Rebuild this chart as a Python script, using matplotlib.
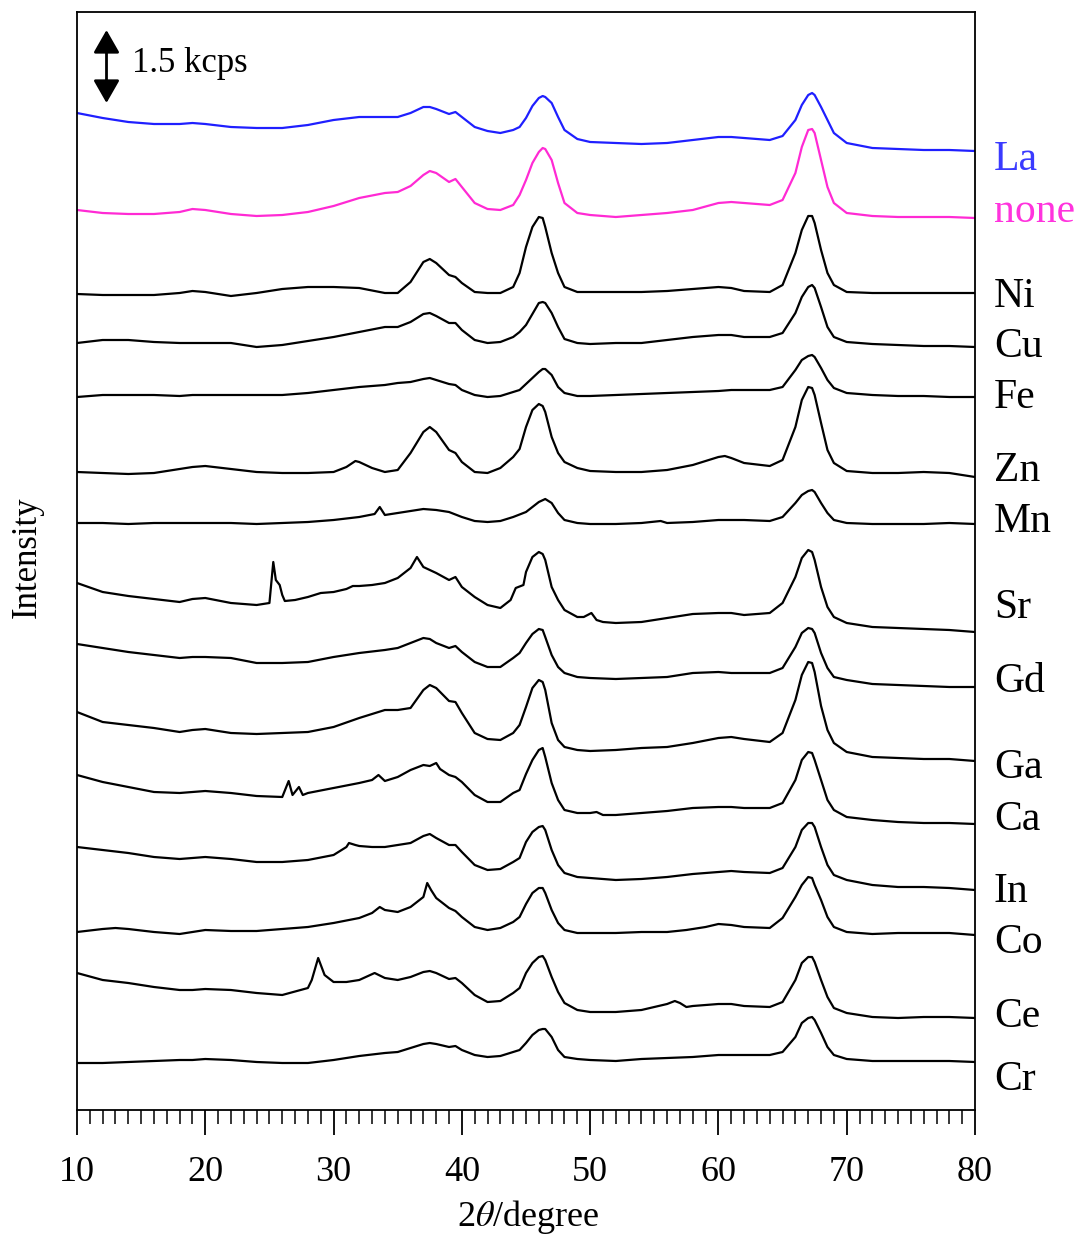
import matplotlib
matplotlib.use("Agg")
import matplotlib.pyplot as plt
import matplotlib.transforms as mtransforms
from matplotlib.ticker import MultipleLocator
import numpy as np

plt.rcParams['font.family'] = ['Liberation Serif', 'DejaVu Serif']
plt.rcParams['mathtext.fontset'] = 'stix'

# XRD patterns, 2theta in degree, intensity in plot units (73 units = 1.5 kcps)
base_tt = [10, 12, 14, 16, 18, 19, 20, 22, 24, 26, 28, 30, 32, 34, 35, 36, 37, 37.5, 38, 39,
           39.5, 40, 41, 42, 43, 44, 44.5, 45, 45.5, 46, 46.3, 46.5, 47, 47.5, 48, 49, 50, 52, 54, 56,
           58, 60, 61, 62, 64, 65, 66, 66.5, 67, 67.3, 67.5, 68, 68.5, 69, 70, 72, 74, 76, 78, 80]

la_i = [38, 33, 29, 27, 27, 28, 27, 24, 23, 23, 26, 31, 34, 34, 34, 38, 44, 44, 42, 37,
        39, 34, 24, 20, 18, 21, 24, 33, 45, 53, 55, 54, 48, 34, 21, 12, 9, 8, 7, 8,
        11, 14, 14, 13, 11, 15, 31, 46, 56, 58, 56, 44, 31, 18, 8, 3, 2, 1, 1, 0]
none_i = [8, 5, 4, 4, 6, 9, 8, 4, 2, 3, 6, 12, 20, 25, 26, 32, 43, 47, 45, 36,
          39, 31, 15, 9, 8, 13, 23, 38, 55, 66, 70, 69, 58, 35, 15, 5, 3, 1, 3, 5,
          8, 15, 16, 15, 13, 18, 45, 71, 88, 89, 85, 58, 31, 15, 5, 2, 1, 1, 1, 0]
ni_i = [2, 1, 1, 1, 3, 5, 4, 0, 3, 7, 9, 9, 8, 3, 3, 14, 34, 37, 33, 21,
        19, 13, 4, 3, 3, 9, 23, 49, 69, 79, 78, 69, 43, 23, 9, 4, 4, 4, 4, 5,
        7, 9, 8, 5, 4, 11, 43, 66, 80, 80, 73, 46, 23, 11, 4, 3, 3, 3, 3, 3]
cu_i = [4, 7, 7, 5, 4, 4, 4, 4, 0, 2, 6, 10, 15, 20, 20, 25, 33, 34, 31, 24,
        24, 17, 7, 4, 5, 10, 15, 22, 33, 44, 45, 44, 34, 20, 8, 4, 3, 4, 4, 7,
        10, 12, 12, 10, 10, 14, 34, 50, 60, 62, 59, 40, 20, 10, 5, 3, 2, 1, 1, 0]
fe_i = [0, 2, 2, 2, 1, 2, 2, 2, 2, 2, 4, 7, 10, 12, 14, 15, 18, 19, 17, 13,
        12, 7, 2, 0, 1, 5, 7, 13, 19, 25, 28, 28, 22, 10, 4, 1, 1, 2, 3, 4,
        5, 6, 7, 7, 7, 10, 27, 37, 41, 42, 40, 29, 17, 9, 4, 2, 1, 1, 0, 0]
gd_i = [43, 39, 35, 32, 29, 30, 30, 29, 24, 24, 25, 30, 34, 37, 39, 44, 49, 48, 44, 39,
        41, 35, 25, 20, 20, 29, 34, 44, 53, 58, 57, 50, 32, 20, 14, 10, 9, 8, 9, 10,
        14, 15, 14, 14, 14, 19, 40, 54, 59, 58, 54, 34, 19, 10, 7, 3, 2, 1, 0, 0]
ga_i = [49, 39, 36, 33, 29, 31, 32, 28, 27, 28, 29, 34, 43, 51, 51, 53, 71, 76, 73, 60,
        59, 48, 28, 22, 21, 28, 36, 54, 73, 81, 79, 71, 38, 21, 14, 11, 10, 11, 13, 14,
        18, 23, 24, 22, 19, 28, 61, 86, 99, 98, 89, 55, 31, 18, 9, 4, 3, 2, 2, 0]
cr_i = [0, 0, 1, 2, 3, 3, 4, 3, 1, 0, 0, 3, 7, 10, 11, 15, 19, 20, 19, 16,
        17, 13, 8, 6, 7, 11, 13, 20, 28, 33, 34, 34, 26, 13, 6, 4, 3, 2, 4, 5,
        6, 8, 8, 8, 8, 11, 26, 40, 45, 46, 43, 30, 16, 8, 4, 2, 2, 2, 2, 1]

zn_tt = [10, 12, 14, 16, 18, 19, 20, 22, 24, 26, 28, 30, 31, 31.7, 32, 33, 34, 35, 36, 37,
         37.5, 38, 39, 39.5, 40, 41, 42, 43, 44, 44.5, 45, 45.5, 46, 46.3, 46.5, 47, 47.5, 48, 49, 50,
         52, 54, 56, 58, 60, 60.5, 61, 62, 64, 65, 66, 66.5, 67, 67.3, 67.5, 68, 68.5, 69, 70, 72,
         74, 76, 78, 80]
zn_i = [5, 4, 3, 4, 8, 10, 11, 8, 5, 4, 4, 5, 10, 16, 15, 9, 5, 7, 24, 45,
        50, 45, 27, 24, 15, 5, 4, 9, 20, 28, 50, 67, 73, 71, 65, 40, 24, 15, 9, 6,
        5, 5, 7, 12, 20, 21, 19, 14, 11, 17, 50, 77, 90, 89, 82, 54, 27, 14, 6, 4,
        4, 5, 4, 0]

mn_tt = [10, 12, 14, 16, 18, 20, 22, 24, 26, 28, 30, 32, 33.2, 33.6, 34, 35, 36, 37, 38, 39,
         40, 41, 42, 43, 44, 45, 45.5, 46, 46.5, 47, 47.5, 48, 49, 50, 52, 54, 55.5, 56, 58, 60,
         62, 64, 65, 66, 66.5, 67, 67.3, 67.5, 68, 68.5, 69, 70, 72, 74, 76, 78, 80]
mn_i = [1, 1, 0, 1, 1, 1, 1, 0, 1, 2, 4, 7, 10, 17, 9, 11, 13, 15, 14, 12,
        7, 3, 2, 3, 7, 12, 17, 22, 25, 21, 11, 4, 1, 0, 0, 1, 3, 1, 2, 4,
        4, 3, 7, 21, 29, 33, 34, 32, 21, 11, 4, 1, 0, 0, 0, 1, 0]

sr_tt = [10, 12, 14, 16, 18, 19, 20, 22, 24, 25, 25.3, 25.5, 25.8, 26, 26.2, 27, 28, 29, 30, 31,
         31.5, 32, 33, 34, 35, 36, 36.5, 37, 38, 39, 39.5, 40, 41, 42, 43, 43.8, 44.2, 44.8, 45, 45.5,
         46, 46.3, 46.5, 47, 47.5, 48, 49, 49.5, 50.1, 50.5, 51, 52, 54, 56, 58, 60, 61, 62, 64, 65,
         66, 66.5, 67, 67.3, 67.5, 68, 68.5, 69, 70, 72, 74, 76, 78, 80]
sr_i = [49, 40, 36, 33, 30, 33, 34, 29, 27, 29, 70, 52, 47, 37, 31, 32, 35, 39, 40, 43,
        46, 46, 47, 49, 54, 64, 75, 65, 59, 52, 55, 45, 35, 27, 24, 32, 44, 47, 60, 75,
        80, 78, 72, 45, 32, 22, 15, 15, 19, 12, 10, 9, 10, 14, 18, 19, 19, 17, 19, 29,
        55, 74, 82, 80, 72, 45, 25, 15, 9, 5, 4, 3, 2, 0]

ca_tt = [10, 12, 14, 16, 18, 19, 20, 22, 24, 26, 26.5, 26.8, 27.3, 27.6, 28, 30, 32, 33, 33.5, 34,
         35, 36, 37, 37.5, 38, 38.3, 39, 39.5, 40, 41, 42, 43, 44, 44.5, 45, 45.5, 46, 46.3, 46.5, 47,
         47.5, 48, 49, 50, 50.5, 51, 52, 54, 56, 58, 60, 61, 62, 64, 65, 66, 66.5, 67, 67.3, 67.5,
         68, 68.5, 69, 70, 72, 74, 76, 78, 80]
ca_i = [49, 42, 37, 32, 31, 32, 33, 31, 28, 27, 43, 29, 37, 29, 31, 36, 41, 44, 49, 43,
        47, 54, 59, 58, 61, 55, 49, 47, 42, 29, 22, 22, 31, 34, 50, 64, 74, 76, 67, 41,
        24, 14, 11, 11, 12, 9, 9, 11, 13, 16, 17, 17, 16, 16, 21, 44, 64, 72, 71, 64,
        44, 24, 14, 7, 4, 2, 1, 1, 0]

in_tt = [10, 12, 14, 16, 18, 19, 20, 22, 24, 26, 28, 30, 31, 31.2, 31.7, 32, 33, 34, 35, 36,
         37, 37.5, 38, 39, 39.5, 40, 41, 42, 43, 44, 44.5, 45, 45.5, 46, 46.3, 46.5, 47, 47.5, 48, 49,
         50, 52, 54, 56, 58, 60, 61, 62, 64, 65, 66, 66.5, 67, 67.3, 67.5, 68, 68.5, 69, 70, 72,
         74, 76, 78, 80]
in_i = [43, 40, 37, 33, 31, 32, 33, 31, 28, 28, 30, 35, 43, 47, 45, 44, 43, 43, 45, 47,
        54, 56, 52, 45, 45, 38, 25, 20, 21, 28, 32, 48, 58, 63, 64, 60, 40, 25, 17, 13,
        12, 10, 11, 13, 16, 18, 19, 18, 17, 22, 43, 60, 67, 67, 63, 43, 25, 15, 10, 5,
        3, 3, 2, 0]

co_tt = [10, 12, 13, 14, 16, 18, 19, 20, 22, 24, 26, 28, 30, 32, 33, 33.6, 34, 35, 36, 37,
         37.3, 37.6, 38, 39, 39.5, 40, 41, 42, 43, 44, 44.5, 45, 45.5, 46, 46.3, 46.5, 47, 47.5, 48, 49,
         50, 52, 54, 56, 57.5, 59, 60, 61, 62, 64, 65, 66, 66.5, 67, 67.3, 67.5, 68, 68.5, 69, 70,
         72, 74, 76, 78, 80]
co_i = [3, 6, 7, 6, 3, 1, 3, 5, 4, 4, 6, 8, 12, 17, 22, 28, 25, 23, 28, 38,
        52, 45, 37, 27, 24, 18, 8, 5, 7, 13, 18, 31, 42, 47, 47, 42, 25, 12, 5, 2,
        2, 2, 3, 3, 5, 8, 11, 10, 8, 7, 17, 38, 50, 58, 57, 50, 35, 18, 8, 3,
        1, 2, 2, 2, 0]

ce_tt = [10, 12, 14, 16, 18, 19, 20, 22, 24, 26, 28, 28.3, 28.8, 29.3, 30, 31, 32, 33.2, 34, 35,
         36, 37, 37.5, 38, 39, 39.5, 40, 41, 42, 43, 44, 44.5, 45, 45.5, 46, 46.3, 46.5, 47, 47.5, 48,
         49, 50, 52, 54, 55, 56, 56.6, 57, 57.5, 58, 60, 61, 62, 64, 65, 66, 66.5, 67, 67.3, 67.5,
         68, 68.5, 69, 70, 72, 74, 76, 78, 80]
ce_i = [45, 38, 35, 31, 28, 28, 29, 28, 25, 23, 30, 38, 60, 43, 36, 36, 38, 45, 40, 38,
        41, 46, 47, 45, 39, 40, 35, 23, 16, 17, 25, 30, 45, 55, 61, 62, 58, 41, 26, 15,
        8, 6, 6, 8, 11, 14, 17, 15, 11, 12, 14, 14, 12, 11, 16, 38, 55, 61, 61, 56,
        38, 21, 10, 5, 1, 0, 1, 1, 0]

names = ['La', 'none', 'Ni', 'Cu', 'Fe', 'Zn', 'Mn', 'Sr', 'Gd', 'Ga', 'Ca', 'In', 'Co', 'Ce', 'Cr']
offsets = [959, 892, 814, 763, 713, 633, 586, 478, 423, 349, 286, 220, 175, 92, 47]
label_y = [950, 898, 813, 763, 712, 639, 588, 502, 428, 342, 290, 218, 167, 93, 30]
tt_list = [base_tt, base_tt, base_tt, base_tt, base_tt, zn_tt, mn_tt, sr_tt, base_tt,
           base_tt, ca_tt, in_tt, co_tt, ce_tt, base_tt]
int_list = [la_i, none_i, ni_i, cu_i, fe_i, zn_i, mn_i, sr_i, gd_i, ga_i, ca_i, in_i,
            co_i, ce_i, cr_i]
line_colors = {'La': '#1f1fff', 'none': '#ff2ad4'}
text_colors = {'La': '#3a3aff', 'none': '#ff33dd'}
scale_kcps = 1.5
scale_units = 73

fig = plt.figure(figsize=(10.8, 12.36), dpi=100)
ax = fig.add_axes([77 / 1080, 1 - 1110 / 1236, 898 / 1080, 1098 / 1236])

trans = mtransforms.blended_transform_factory(ax.transAxes, ax.transData)
for name, tt, inten, off, ly in zip(names, tt_list, int_list, offsets, label_y):
    c = line_colors.get(name, 'black')
    ax.plot(tt, off + np.array(inten), color=c, lw=1.6, solid_joinstyle='round')
    ax.text(1.021, ly, name, transform=trans, fontsize=30, va='center', ha='left',
            color=text_colors.get(name, 'black'))

ax.set_xlim(10, 80)
ax.set_ylim(0, 1098)
ax.xaxis.set_major_locator(MultipleLocator(10))
ax.xaxis.set_minor_locator(MultipleLocator(1))
ax.tick_params(axis='x', which='major', direction='out', length=18, width=1.3,
               labelsize=26, pad=15)
ax.tick_params(axis='x', which='minor', direction='out', length=10, width=1.1)
ax.set_yticks([])
for s in ax.spines.values():
    s.set_linewidth(1.3)

# scale bar
ax.annotate('', xy=(12.3, 1007 + scale_units), xytext=(12.3, 1007),
            arrowprops=dict(arrowstyle='<|-|>,head_length=0.7,head_width=0.4',
                            color='black', lw=2, shrinkA=0, shrinkB=0, mutation_scale=20))
ax.text(14.3, 1047, f'{scale_kcps} kcps', fontsize=25, va='center', ha='left')

fig.text(27 / 1080, 1 - 557 / 1236, 'Intensity', rotation=90, fontsize=25,
         va='center', ha='center')
fig.text(528 / 1080, 1 - 1217 / 1236, r'2$\theta$/degree', fontsize=26,
         va='center', ha='center')

fig.savefig('out.png', dpi=100)
